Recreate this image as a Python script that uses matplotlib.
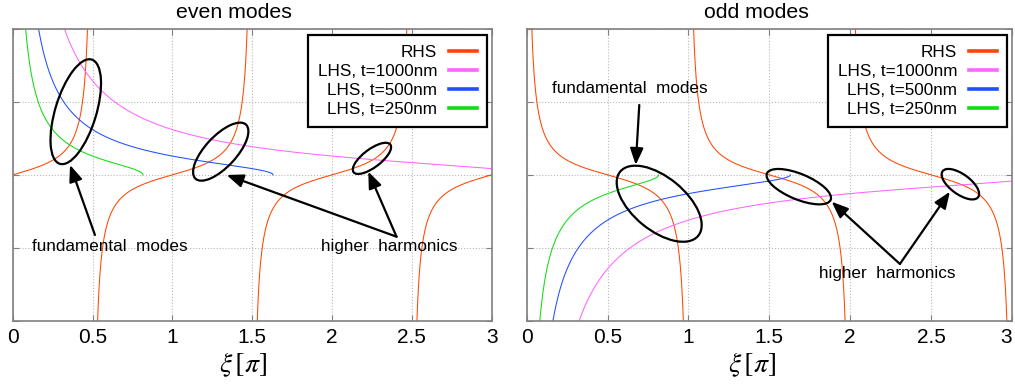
import numpy as np
import matplotlib
matplotlib.use('Agg')
import matplotlib.pyplot as plt
from matplotlib.patches import Ellipse
from matplotlib.transforms import ScaledTranslation

plt.rcParams['font.family'] = ['Liberation Sans', 'DejaVu Sans']
plt.rcParams['mathtext.fontset'] = 'stix'

# ---------------- data ----------------
panel_titles = ['even modes', 'odd modes']
x_label = r'$\xi\,[\pi]$'
xi_limits = [0.0, 3.0]            # xi in units of pi
y_limits = [-10.0, 10.0]
x_ticks = [0, 0.5, 1, 1.5, 2, 2.5, 3]
x_tick_labels = ['0', '0.5', '1', '1.5', '2', '2.5', '3']
y_ticks = [-10, -5, 0, 5, 10]

rhs_label = 'RHS'
lhs_labels = ['LHS, t=1000nm', 'LHS, t=500nm', 'LHS, t=250nm']
lhs_cutoff = [3.26, 1.63, 0.815]  # xi (in pi) where each LHS curve reaches zero
even_branch_edges = [0.0, 0.5, 1.5, 2.5, 3.0]   # tan branches
odd_branch_edges = [0.0, 1.0, 2.0, 3.0]         # cot branches

# ---------------- styles ----------------
rhs_color = '#ff4500'
lhs_colors = ['#ff66ff', '#1f4fff', '#11dd11']

fig = plt.figure(figsize=(10.15, 3.87), dpi=100)
W, H = 1015, 387
ax_even = fig.add_axes([12.7 / W, 1 - 320.7 / H, 479 / W, 291.7 / H])
ax_odd = fig.add_axes([526.7 / W, 1 - 320.7 / H, 485.3 / W, 291.7 / H])


def tanp(x):
    return np.tan(np.pi * x)


def cot(x):
    return 1.0 / np.tan(np.pi * x)


def branches(edges, func, eps=2e-4):
    xs, ys = [], []
    for a, b in zip(edges[:-1], edges[1:]):
        start = a if (func is tanp and a == 0) else a + eps
        stop = b if b == xi_limits[1] and (func is tanp) else b - eps
        x = np.linspace(start, stop, 4000)
        xs.append(x)
        ys.append(func(x))
        xs.append([np.nan])
        ys.append([np.nan])
    return np.concatenate(xs), np.concatenate(ys)


def lhs(V, sign):
    x = np.linspace(0.01, min(V, xi_limits[1]), 3000)
    y = np.sqrt(np.clip(V ** 2 - x ** 2, 0, None)) / x
    return x, sign * y


def style_axes(ax, title, title_x, xlabel_x):
    ax.set_xlim(*xi_limits)
    ax.set_ylim(*y_limits)
    ax.set_xticks(x_ticks)
    ax.set_xticklabels(x_tick_labels)
    ax.set_yticks(y_ticks)
    ax.set_yticklabels([])
    ax.grid(True, linestyle=':', color='#b8b8b8', linewidth=0.8)
    ax.tick_params(direction='in', length=4, width=0.8, color='#808080',
                   top=True, right=True, labelsize=15, pad=5)
    for s in ax.spines.values():
        s.set_color('#808080')
        s.set_linewidth(1.2)
    ax.text(title_x, 1.036, title, transform=ax.transAxes, ha='center',
            va='baseline', fontsize=15.3)
    ax.text(xlabel_x, -0.152, x_label, transform=ax.transAxes, ha='center',
            va='center', fontsize=20)


def draw_panel(ax, edges, rfunc, sign):
    x, y = branches(edges, rfunc)
    ax.plot(x, y, color=rhs_color, lw=0.75, label=rhs_label)
    for V, c, lab in zip(lhs_cutoff, lhs_colors, lhs_labels):
        lx, ly = lhs(V, sign)
        ax.plot(lx, ly, color=c, lw=0.75, label=lab)


def legend(ax, anchor):
    leg = ax.legend(loc='upper right', bbox_to_anchor=anchor, borderaxespad=0,
                    markerfirst=False, fancybox=False, edgecolor='black',
                    framealpha=1, fontsize=12.3, handlelength=1.65,
                    handletextpad=0.7, labelspacing=0.25, borderpad=0.55)
    leg.get_frame().set_linewidth(1.6)
    for l in leg.get_lines():
        l.set_linewidth(2.6)


def ellipse(ax, cx, cy, w, h, ang):
    e = Ellipse((0, 0), w, h, angle=ang, fill=False, ec='black', lw=1.6,
                transform=ScaledTranslation(cx, cy, ax.transData), zorder=5)
    ax.add_patch(e)


def arrow(ax, tip, tail):
    ax.annotate('', xy=tip, xytext=tail,
                arrowprops=dict(arrowstyle='-|>,head_length=1.0,head_width=0.4',
                                color='black', lw=1.6, shrinkA=0, shrinkB=0,
                                mutation_scale=10), zorder=6)


# even panel
draw_panel(ax_even, even_branch_edges, tanp, 1)
style_axes(ax_even, panel_titles[0], 0.461, 0.48)
legend(ax_even, (0.9896, 0.979))
ellipse(ax_even, 0.395, 4.33, 109, 41, 73)
ellipse(ax_even, 1.303, 1.59, 74, 31, 47)
ellipse(ax_even, 2.25, 1.13, 46, 18, 37)
arrow(ax_even, (0.359, 0.68), (0.515, -4.12))
arrow(ax_even, (1.340, -0.01), (2.404, -4.24))
arrow(ax_even, (2.227, 0.22), (2.404, -4.24))
ax_even.text(0.61, -4.93, 'fundamental  modes', ha='center', va='center', fontsize=12.3)
ax_even.text(2.36, -4.88, 'higher  harmonics', ha='center', va='center', fontsize=12.3)

# odd panel
draw_panel(ax_odd, odd_branch_edges, cot, -1)
style_axes(ax_odd, panel_titles[1], 0.474, 0.465)
legend(ax_odd, (0.989, 0.979))
ellipse(ax_odd, 0.819, -1.98, 101, 53, -39.4)
ellipse(ax_odd, 1.682, -0.81, 69, 25.5, -22.5)
ellipse(ax_odd, 2.681, -0.64, 44, 20, -36)
arrow(ax_odd, (0.674, 0.68), (0.696, 4.79))
arrow(ax_odd, (1.885, -1.84), (2.307, -6.11))
arrow(ax_odd, (2.616, -1.16), (2.307, -6.11))
ax_odd.text(0.638, 5.94, 'fundamental  modes', ha='center', va='center', fontsize=12.3)
ax_odd.text(2.231, -6.75, 'higher  harmonics', ha='center', va='center', fontsize=12.3)

# keep the last tick label of the right panel inside the figure
ax_odd.get_xticklabels()[-1].set_horizontalalignment('right')

fig.savefig('out.png', dpi=100)
